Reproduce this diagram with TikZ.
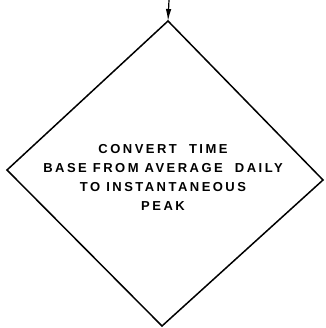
\documentclass[tikz,border=0pt]{standalone}
\usepackage{fontspec}
\setmainfont{Liberation Sans}[LetterSpace=19]
\usetikzlibrary{arrows.meta}
\tikzset{
  outline/.style={line width=1.5pt, line join=miter},
  flow/.style={line width=1.2pt, -{Latex[length=12pt,width=5.5pt]}},
  label/.style={align=center, font=\bfseries\fontsize{13}{19}\selectfont, inner sep=0pt}
}
\begin{document}
\begin{tikzpicture}[x=1pt,y=-1pt]
\useasboundingbox (0,0) rectangle (325,328);
\coordinate (T) at (168,21);
\coordinate (L) at (7,170);
\coordinate (R) at (323,180);
\coordinate (B) at (162,326);
\coordinate (in) at (169,0);
\draw[outline] (T) -- (R) -- (B) -- (L) -- cycle;
\draw[flow] (in) -- (T);
\node[label] (txt) at (163,177.5) {CONVERT\ \ TIME\\BASE FROM AVERAGE\ \ DAILY\\TO INSTANTANEOUS\\PEAK};
\end{tikzpicture}
\end{document}
